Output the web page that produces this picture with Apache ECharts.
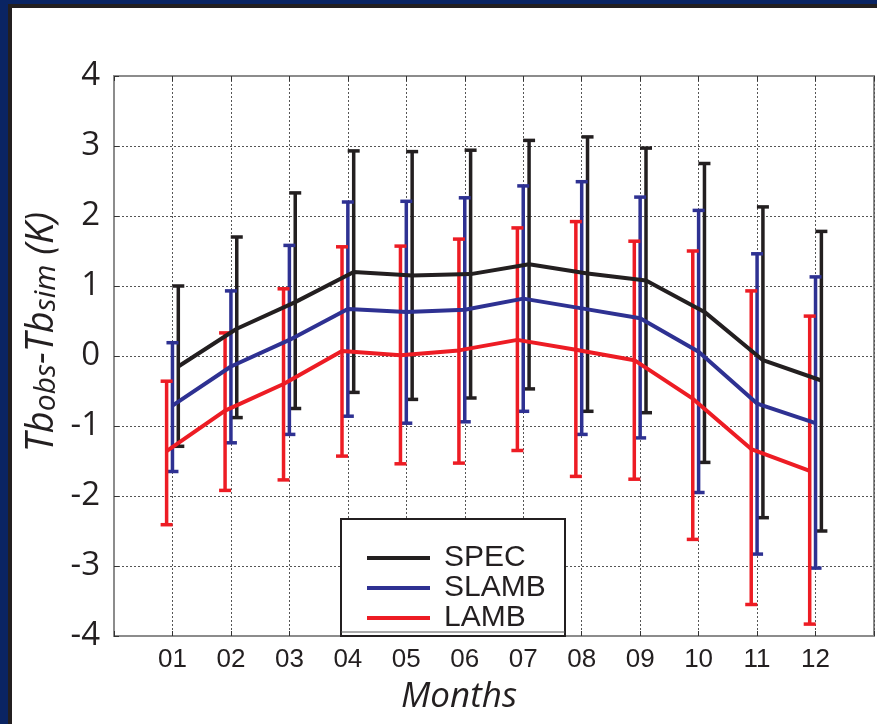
<!DOCTYPE html>
<html>
<head>
<meta charset="utf-8">
<script src="https://cdn.jsdelivr.net/npm/echarts@6/dist/echarts.min.js"></script>
<style>
html,body{margin:0;padding:0;width:877px;height:724px;overflow:hidden;background:#0a2463;}
#bg{position:absolute;left:8px;top:4px;width:877px;height:730px;background:#fff;border-left:4px solid #231f20;border-top:4px solid #231f20;}
#main{position:absolute;left:0;top:0;width:877px;height:724px;}
</style>
</head>
<body>
<div id="bg"></div>
<div id="main"></div>
<script>
const months = ['01','02','03','04','05','06','07','08','09','10','11','12'];
const seriesNames = ['SPEC','SLAMB','LAMB'];
const specMean  = [-0.15, 0.39, 0.77, 1.20, 1.15, 1.17, 1.31, 1.18, 1.08, 0.63, -0.06, -0.35];
const specLow   = [-1.29, -0.88, -0.75, -0.52, -0.62, -0.60, -0.47, -0.79, -0.81, -1.52, -2.31, -2.50];
const specHigh  = [1.00, 1.70, 2.33, 2.93, 2.92, 2.94, 3.08, 3.13, 2.97, 2.75, 2.13, 1.78];
const slambMean = [-0.71, -0.15, 0.23, 0.67, 0.63, 0.66, 0.82, 0.68, 0.54, 0.06, -0.68, -0.96];
const slambLow  = [-1.65, -1.24, -1.12, -0.86, -0.96, -0.94, -0.79, -1.12, -1.17, -1.95, -2.83, -3.03];
const slambHigh = [0.19, 0.93, 1.58, 2.20, 2.21, 2.26, 2.43, 2.49, 2.27, 2.08, 1.46, 1.13];
const lambMean  = [-1.36, -0.78, -0.40, 0.07, 0.01, 0.08, 0.23, 0.09, -0.06, -0.61, -1.33, -1.64];
const lambLow   = [-2.41, -1.92, -1.77, -1.43, -1.54, -1.53, -1.35, -1.72, -1.76, -2.62, -3.55, -3.83];
const lambHigh  = [-0.36, 0.33, 0.96, 1.56, 1.57, 1.67, 1.83, 1.92, 1.64, 1.50, 0.93, 0.57];

const colors = {SPEC:'#231f20', SLAMB:'#2e3192', LAMB:'#ed1c24'};
const offsets = {SPEC:0.1, SLAMB:0, LAMB:-0.1};
const groups = [
  {name:'SPEC', mean:specMean, low:specLow, high:specHigh},
  {name:'SLAMB', mean:slambMean, low:slambLow, high:slambHigh},
  {name:'LAMB', mean:lambMean, low:lambLow, high:lambHigh}
];

const series = [];
groups.forEach(g => {
  const col = colors[g.name], off = offsets[g.name];
  series.push({
    name: g.name + ' range', type:'custom', z:3,
    data: g.mean.map((m,i) => [i+1+off, g.low[i], g.high[i]]),
    renderItem: function(params, api){
      const x = api.value(0);
      const p1 = api.coord([x, api.value(1)]);
      const p2 = api.coord([x, api.value(2)]);
      const hw = 6;
      const st = {stroke: col, lineWidth: 3.5};
      return {type:'group', children:[
        {type:'line', shape:{x1:p1[0],y1:p1[1],x2:p2[0],y2:p2[1]}, style:st},
        {type:'line', shape:{x1:p1[0]-hw,y1:p1[1],x2:p1[0]+hw,y2:p1[1]}, style:st},
        {type:'line', shape:{x1:p2[0]-hw,y1:p2[1],x2:p2[0]+hw,y2:p2[1]}, style:st}
      ]};
    }
  });
  series.push({
    name: g.name, type:'line', z:4, symbol:'none',
    data: g.mean.map((m,i) => [i+1+off, m]),
    lineStyle:{color:col, width:4}, itemStyle:{color:col}
  });
});

const chart = echarts.init(document.getElementById('main'), null, {renderer:'canvas'});
chart.setOption({
  backgroundColor:'transparent',
  animation:false,
  grid:{left:114, top:76, width:764, height:560, show:true, borderColor:'#8c8c8c', borderWidth:2, backgroundColor:'transparent'},
  xAxis:[{
    type:'value', min:0, max:13, interval:1, position:'bottom',
    axisLine:{show:true, onZero:false, lineStyle:{color:'#8c8c8c', width:2}},
    axisTick:{show:true, inside:true, length:5, lineStyle:{color:'#333'}},
    axisLabel:{fontFamily:'Liberation Sans', fontSize:26, color:'#231f20', margin:11,
      formatter: v => (v>=1 && v<=12) ? months[v-1] : ''},
    splitLine:{show:true, lineStyle:{color:'#555', width:1, type:[2,2]}}
  },{
    type:'value', min:0, max:13, interval:1, position:'top',
    axisLine:{show:true, onZero:false, lineStyle:{color:'#8c8c8c', width:2}},
    axisTick:{show:true, inside:true, length:5, lineStyle:{color:'#333'}},
    axisLabel:{show:false}, splitLine:{show:false}
  }],
  yAxis:{
    type:'value', min:-4, max:4, interval:1,
    axisLine:{show:true, onZero:false, lineStyle:{color:'#8c8c8c', width:2}},
    axisTick:{show:true, inside:true, length:5, lineStyle:{color:'#333'}},
    axisLabel:{fontFamily:'Open Sans', fontSize:33, color:'#231f20', margin:14},
    splitLine:{show:true, lineStyle:{color:'#555', width:1, type:[2,2]}}
  },
  legend:{
    data: seriesNames, orient:'vertical', left:362, top:538, itemGap:0,
    icon:'rect', itemWidth:63, itemHeight:4, z:10,
    textStyle:{fontFamily:'Liberation Sans', fontSize:30, color:'#231f20', lineHeight:29.5, padding:[0,0,0,9]}
  },
  graphic:[
    {type:'rect', z:8, shape:{x:341, y:519, width:224, height:117}, style:{fill:'#fff', stroke:'#231f20', lineWidth:2}},
    {type:'line', z:8, shape:{x1:341, y1:632, x2:565, y2:632}, style:{stroke:'#555', lineWidth:1}},
    {type:'text', z:8, x:459, y:697, style:{text:'Months', fontFamily:'Open Sans', fontStyle:'italic', fontSize:35, fill:'#231f20', textAlign:'center', textVerticalAlign:'middle'}},
    {type:'text', z:8, x:41, y:332, rotation:Math.PI/2,
      style:{text:'{a|Tb}{b|obs}{a|-Tb}{b|sim}{a| (K)}', textAlign:'center', textVerticalAlign:'middle', fill:'#231f20',
        rich:{a:{fontFamily:'Open Sans', fontStyle:'italic', fontSize:38, fill:'#231f20', verticalAlign:'bottom', lineHeight:40},
              b:{fontFamily:'Open Sans', fontStyle:'italic', fontSize:30, fill:'#231f20', verticalAlign:'bottom', lineHeight:38}}}}
  ],
  series: series
});
</script>
</body>
</html>
